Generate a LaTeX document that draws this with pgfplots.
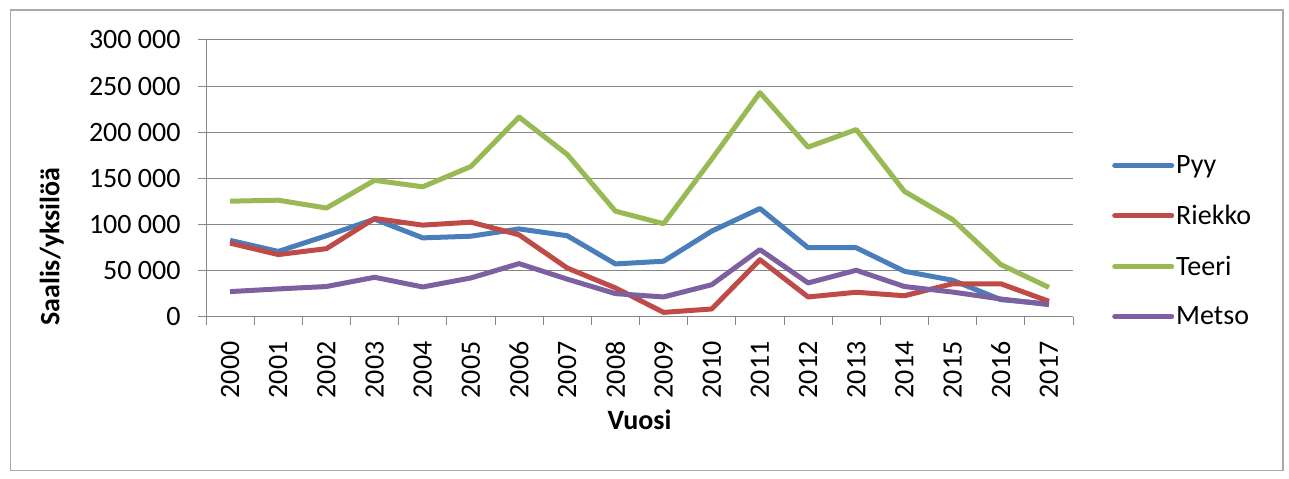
\documentclass[border=0pt]{standalone}
\usepackage{fontspec}
\setmainfont{Carlito}
\usepackage{pgfplots}
\pgfplotsset{compat=1.18}
\definecolor{pyy}{HTML}{4A7EBB}
\definecolor{riekko}{HTML}{BE4B48}
\definecolor{teeri}{HTML}{98B954}
\definecolor{metso}{HTML}{7D60A0}
\definecolor{gridc}{HTML}{868686}
\newcommand{\chartfont}{\fontsize{28bp}{33bp}\selectfont}
\begin{document}
\begin{tikzpicture}[x=1bp,y=1bp]
\path[use as bounding box] (0,0) rectangle (1289,479);
\draw[gridc!70, line width=1.5bp] (10.5,8.5) rectangle (1283,469);
\begin{axis}[
    at={(206bp,162bp)}, anchor=south west,
    scale only axis,
    width=867bp, height=277bp,
    xmin=-0.5, xmax=17.5,
    ymin=0, ymax=300000,
    axis lines*=left,
    axis line style={gridc, line width=1bp},
    xtick={-0.5,0.5,...,17.5},
    xticklabels={},
    extra x ticks={0,...,17},
    extra x tick labels={2000,2001,2002,2003,2004,2005,2006,2007,2008,2009,2010,2011,2012,2013,2014,2015,2016,2017},
    extra x tick style={major tick length=0pt},
    ytick={0,50000,...,300000},
    tick align=outside,
    major tick length=8bp,
    tick style={gridc, line width=1bp},
    ymajorgrids, grid style={gridc, line width=1bp},
    scaled y ticks=false,
    /pgf/number format/.cd, fixed, 1000 sep={\ }, assume math mode=true,
    /pgfplots/.cd,
    tick label style={font=\chartfont},
    xticklabel style={rotate=90, anchor=east, xshift=-21bp},
    yticklabel style={xshift=-14bp},
    xlabel={\bfseries Vuosi}, ylabel={\bfseries Saalis/yksilöä},
    label style={font=\chartfont},
    xlabel style={at={(axis description cs:0.5,-0.372)}, anchor=center},
    ylabel style={at={(axis description cs:-0.178,0.254)}, anchor=center},
    legend style={draw=none, fill=none, at={(1.045,0.274)}, anchor=west,
        font=\chartfont, row sep=26bp, inner sep=0pt,
        /tikz/every even column/.append style={column sep=4bp}},
    legend cell align=left,
    legend image code/.code={\draw[#1, line cap=round] (0bp,0bp) -- (57bp,0bp);},
    every axis plot/.append style={line width=5bp, line join=round},
]
\addplot[pyy] coordinates {
 (0,83000) (1,71000) (2,88000) (3,106000) (4,85700) (5,87500) (6,95400) (7,88000) (8,57500)
 (9,60400) (10,93000) (11,117500) (12,75000) (13,75000) (14,49500) (15,39800) (16,18800) (17,14000)};
\addplot[riekko] coordinates {
 (0,80000) (1,67600) (2,74000) (3,106700) (4,99500) (5,102700) (6,89000) (7,53000) (8,31500)
 (9,5000) (10,8700) (11,62000) (12,21700) (13,26800) (14,23000) (15,36000) (16,36000) (17,17000)};
\addplot[teeri] coordinates {
 (0,125400) (1,126500) (2,118000) (3,148000) (4,141000) (5,163000) (6,216500) (7,176000) (8,114600)
 (9,101000) (10,171000) (11,243000) (12,184000) (13,203000) (14,136000) (15,105600) (16,56800) (17,32000)};
\addplot[metso] coordinates {
 (0,27500) (1,30400) (2,33000) (3,43000) (4,32500) (5,42300) (6,57800) (7,41000) (8,25300)
 (9,21700) (10,35000) (11,73000) (12,36900) (13,50600) (14,33000) (15,27000) (16,19500) (17,13400)};
\legend{Pyy,Riekko,Teeri,Metso}
\end{axis}
\end{tikzpicture}
\end{document}
